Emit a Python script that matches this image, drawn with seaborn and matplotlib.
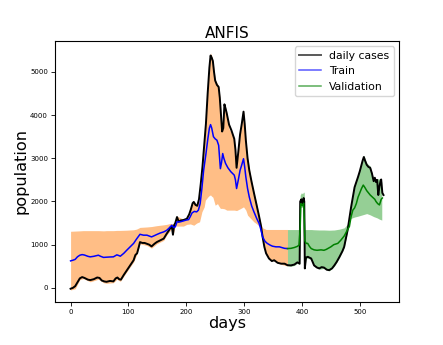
import numpy as np
import matplotlib
matplotlib.use("Agg")
import matplotlib.pyplot as plt
import seaborn as sns

# daily cases
case_days = [0, 4, 8, 12, 16, 20, 24, 30, 34, 40, 46, 50, 54, 58, 62, 68, 74, 78, 81, 84,
             87, 92, 97, 103, 109, 112, 115, 118, 120, 124, 128, 132, 136, 140, 145, 149,
             155, 161, 166, 170, 173, 175, 177, 179, 181, 184, 187, 190, 195, 201, 205,
             208, 211, 213, 216, 219, 222, 225, 228, 231, 234, 237, 240, 242, 244, 246,
             248, 250, 253, 256, 258, 260, 262, 264, 266, 268, 270, 274, 278, 283, 285,
             287, 290, 293, 296, 299, 301, 303, 306, 309, 313, 317, 322, 326, 329, 332,
             335, 338, 343, 348, 352, 358, 364, 370, 375, 381, 387, 392, 396, 397, 399,
             401, 403, 404, 405, 407, 410, 416, 421, 426, 430, 434, 438, 443, 447, 452,
             456, 460, 465, 470, 473, 476, 479, 482, 485, 488, 491, 494, 497, 500, 502,
             505, 507, 509, 512, 515, 518, 521, 524, 526, 528, 530, 532, 534, 536, 537,
             539, 541]
cases = [-20, 0, 40, 130, 220, 250, 230, 190, 180, 200, 240, 230, 170, 150, 140, 160, 150,
         220, 240, 200, 190, 300, 400, 520, 640, 760, 800, 950, 1060, 1040, 1040, 1020,
         1000, 960, 1020, 1060, 1100, 1140, 1250, 1330, 1400, 1420, 1230, 1450, 1500,
         1640, 1530, 1560, 1570, 1600, 1700, 1820, 1960, 1990, 1920, 1900, 2050, 2400,
         2800, 3300, 3800, 4500, 5100, 5380, 5330, 5250, 5000, 4800, 4700, 4650, 4400,
         4000, 3620, 3700, 4250, 4150, 4040, 3780, 3650, 3450, 3200, 2780, 3150, 3550,
         3800, 4080, 3800, 3420, 3000, 2720, 2450, 2200, 1900, 1650, 1450, 1180, 950,
         800, 680, 620, 640, 580, 560, 560, 525, 520, 540, 590, 560, 2000, 2050, 1950,
         2080, 2000, 450, 700, 720, 680, 520, 470, 450, 480, 470, 420, 410, 450, 520,
         600, 720, 850, 950, 1150, 1340, 1600, 1870, 2100, 2330, 2450, 2570, 2700, 2800,
         2950, 3030, 2950, 2850, 2800, 2780, 2650, 2470, 2550, 2450, 2500, 2150, 2350,
         2480, 2510, 2200, 2150]

# ANFIS fit on training part
train_days = [0, 4, 8, 12, 16, 20, 24, 30, 34, 40, 48, 52, 57, 62, 68, 74, 80, 83, 86, 92,
              97, 103, 109, 114, 120, 126, 132, 140, 145, 149, 155, 161, 166, 170, 175,
              178, 181, 184, 190, 195, 200, 204, 207, 210, 214, 218, 221, 224, 227, 230,
              234, 237, 240, 242, 244, 247, 250, 253, 256, 259, 261, 263, 265, 268, 272,
              277, 283, 285, 287, 290, 293, 296, 299, 301, 303, 306, 309, 313, 317, 322,
              326, 329, 332, 336, 340, 345, 349, 355, 361, 366, 370, 375]
train_pred = [625, 640, 660, 720, 756, 770, 760, 730, 718, 730, 756, 730, 705, 710, 715,
              718, 764, 750, 733, 800, 870, 950, 1030, 1130, 1240, 1220, 1220, 1180, 1210,
              1235, 1270, 1296, 1330, 1380, 1450, 1400, 1412, 1528, 1530, 1550, 1570, 1580,
              1650, 1736, 1770, 1759, 1800, 1950, 2300, 2720, 3100, 3420, 3700, 3780, 3700,
              3500, 3450, 3420, 3300, 2760, 2900, 3110, 3000, 2880, 2780, 2690, 2610, 2500,
              2300, 2500, 2720, 2850, 2990, 2800, 2570, 2300, 2100, 1900, 1760, 1600, 1490,
              1350, 1180, 1080, 1030, 990, 965, 950, 950, 930, 915, 910]

# ANFIS prediction on validation part
val_days = [375, 381, 387, 392, 395, 397, 398, 401, 403, 404, 405, 407, 410, 413, 416,
            421, 426, 433, 438, 442, 446, 450, 455, 462, 467, 473, 479, 482, 485, 488,
            491, 494, 497, 500, 503, 506, 509, 512, 515, 518, 522, 526, 528, 531, 534,
            537, 539]
val_pred = [910, 915, 935, 960, 990, 1400, 1950, 1900, 1960, 1600, 1100, 1030, 1030, 960,
            910, 880, 870, 880, 870, 890, 920, 950, 1000, 1030, 1100, 1200, 1350, 1420,
            1650, 1800, 1850, 1950, 2100, 2200, 2300, 2380, 2320, 2250, 2200, 2150, 2100,
            2050, 2000, 1950, 1920, 2050, 2080]

# shaded ranges
train_band_days = [0, 8, 16, 22, 34, 48, 57, 62, 74, 80, 86, 97, 109, 114, 120, 132, 140,
                   149, 161, 166, 172, 175, 177, 181, 184, 195, 201, 207, 213, 218, 223,
                   227, 231, 233, 237, 240, 242, 244, 246, 250, 254, 256, 259, 262, 266,
                   270, 274, 283, 287, 293, 299, 303, 306, 309, 317, 322, 326, 329, 332,
                   338, 343, 352, 364, 375]
train_band_low = [-50, -20, 190, 215, 140, 200, 120, 105, 120, 200, 150, 370, 600, 760,
                  1020, 980, 920, 1020, 1100, 1220, 1320, 1400, 1220, 1440, 1430, 1430,
                  1470, 1480, 1450, 1500, 1530, 1760, 1875, 2030, 2100, 2140, 2150, 2120,
                  2100, 1914, 1950, 1900, 1840, 1840, 1830, 1800, 1800, 1800, 1790, 1830,
                  1875, 1800, 1683, 1640, 1528, 1480, 1430, 1412, 1160, 780, 660, 620, 545,
                  505]
train_band_high = [1310, 1315, 1320, 1325, 1325, 1325, 1320, 1325, 1325, 1330, 1330, 1335,
                   1345, 1360, 1400, 1410, 1420, 1440, 1460, 1470, 1490, 1490, 1480, 1510,
                   1660, 1590, 1620, 1820, 2010, 1930, 2060, 2600, 3330, 3680, 4530, 5150,
                   5440, 5370, 5280, 4830, 4720, 4680, 4300, 3650, 4280, 4070, 3680, 3470,
                   2800, 3530, 4110, 3450, 3030, 2750, 2210, 1930, 1670, 1480, 1390, 1352,
                   1352, 1352, 1352, 1352]

val_band_days = [375, 381, 387, 392, 396, 397, 399, 401, 403, 404, 405, 407, 410, 416, 421,
                 430, 438, 447, 456, 465, 473, 479, 482, 485, 491, 497, 502, 507, 512, 518,
                 524, 530, 534, 538]
val_band_low = [510, 500, 520, 570, 540, 1850, 1870, 1860, 1880, 1850, 430, 680, 690, 650,
                500, 430, 450, 390, 500, 700, 930, 1320, 1560, 1610, 1640, 1660, 1680, 1700,
                1720, 1690, 1650, 1620, 1590, 1570]
val_band_high = [1350, 1350, 1350, 1350, 1350, 2150, 2200, 2180, 2220, 2200, 1350, 1350,
                 1350, 1350, 1345, 1340, 1340, 1335, 1340, 1360, 1390, 1480, 1610, 1900,
                 2370, 2610, 2840, 3070, 2890, 2820, 2520, 2530, 2520, 2450]

fig = plt.figure(figsize=(4.43, 3.45), dpi=100)
ax = fig.add_axes([0.124, 0.125, 0.777, 0.756])

ax.fill_between(train_band_days, train_band_low, train_band_high,
                color="tab:orange", alpha=0.5, linewidth=0)
ax.fill_between(val_band_days, val_band_low, val_band_high,
                color="tab:green", alpha=0.5, linewidth=0)

sns.lineplot(x=case_days, y=cases, color="black", linewidth=1.4, ax=ax,
             label="daily cases", estimator=None, sort=False)
sns.lineplot(x=train_days, y=train_pred, color="blue", linewidth=1.1, ax=ax,
             label="Train", estimator=None, sort=False)
sns.lineplot(x=val_days, y=val_pred, color="green", linewidth=1.1, ax=ax,
             label="Validation", estimator=None, sort=False)

ax.set_title("ANFIS", fontsize=11, pad=2.5)
ax.set_xlabel("days", fontsize=11.6, labelpad=0.5)
ax.set_ylabel("population", fontsize=11.6, labelpad=1)
ax.tick_params(labelsize=5, length=3, width=0.6, pad=2)
ax.set_xticks([0, 100, 200, 300, 400, 500])
ax.set_yticks([0, 1000, 2000, 3000, 4000, 5000])
for s in ax.spines.values():
    s.set_linewidth(0.8)

leg = ax.legend(loc="upper right", fontsize=7.8)
for line in leg.get_lines():
    line.set_alpha(0.65)

fig.savefig("out.png", dpi=100)
